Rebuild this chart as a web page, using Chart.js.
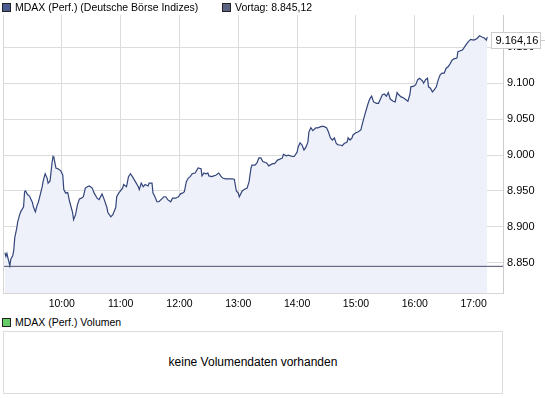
<!DOCTYPE html>
<html>
<head>
<meta charset="utf-8">
<script src="https://cdn.jsdelivr.net/npm/chart.js@4/dist/chart.umd.min.js"></script>
<style>
  body { margin: 0; background: #fff; font-family: "Liberation Sans", Arial, sans-serif; font-size: 11px; color: #000; }
  #wrap { position: relative; width: 545px; height: 398px; overflow: hidden; }
  #main { position: absolute; left: 0; top: 0; }
  .leg { position: absolute; line-height: 13px; white-space: nowrap; font-size: 10.5px; }
  .sq { display: inline-block; width: 7px; height: 7px; border: 1px solid #222; vertical-align: -1px; margin-right: 4px; }
  #volbox { position: absolute; left: 3px; top: 331px; width: 498px; height: 61px; border: 1px solid #dcdcdc;
            text-align: center; line-height: 61px; font-size: 12px; }
</style>
</head>
<body>
<div id="wrap">
  <canvas id="main" width="545" height="312"></canvas>
  <div class="leg" style="left:2px;top:1px"><span class="sq" style="background:#4a5c92"></span>MDAX (Perf.) (Deutsche Börse Indizes)</div>
  <div class="leg" style="left:222px;top:1px"><span class="sq" style="background:#5b6382"></span><span id="vortagText"></span></div>
  <div class="leg" style="left:2px;top:316px"><span class="sq" style="background:#66cc66"></span>MDAX (Perf.) Volumen</div>
  <div id="volbox">keine Volumendaten vorhanden</div>
</div>
<script>
// intraday MDAX (Perf.) values
var timeLabels = [
  "9:02","9:03","9:04","9:05","9:07","9:08","9:10","9:11","9:12","9:14","9:15","9:17","9:18","9:21","9:22","9:23",
  "9:25","9:27","9:30","9:31","9:33","9:35","9:36","9:38","9:40","9:41","9:43","9:45","9:46","9:48","9:50","9:51",
  "9:52","9:54","9:56","9:59","10:01","10:02","10:04","10:06","10:08","10:11","10:12","10:14","10:16","10:18","10:20",
  "10:22","10:24","10:26","10:28","10:31","10:33","10:36","10:38","10:41","10:43","10:46","10:47","10:50","10:52",
  "10:55","10:56","10:58","11:02","11:03","11:06","11:08","11:10","11:12","11:15","11:18","11:19","11:21","11:23",
  "11:25","11:28","11:29","11:32","11:33","11:35","11:37","11:39","11:42","11:44","11:46","11:48","11:51","11:53",
  "11:56","11:59","12:01","12:03","12:05","12:07","12:09","12:11","12:13","12:16","12:19","12:22","12:23","12:25",
  "12:27","12:29","12:30","12:33","12:35","12:37","12:40","12:42","12:44","12:47","12:50","12:54","12:56","12:58",
  "13:00","13:01","13:04","13:06","13:09","13:11","13:13","13:14","13:17","13:19","13:21","13:23","13:25","13:29",
  "13:31","13:35","13:37","13:40","13:42","13:45","13:46","13:49","13:51","13:55","13:57","14:00","14:01","14:03",
  "14:05","14:07","14:09","14:11","14:12","14:14","14:16","14:19","14:21","14:25","14:27","14:30","14:32","14:34",
  "14:36","14:38","14:40","14:42","14:44","14:46","14:48","14:51","14:52","14:54","14:56","14:57","15:00","15:02",
  "15:05","15:07","15:09","15:12","15:14","15:16","15:18","15:21","15:23","15:25","15:27","15:29","15:31","15:33",
  "15:35","15:38","15:40","15:42","15:43","15:46","15:48","15:51","15:53","15:55","15:56","15:59","16:01","16:03",
  "16:05","16:08","16:09","16:11","16:13","16:14","16:16","16:18","16:20","16:22","16:24","16:26","16:28","16:30",
  "16:32","16:34","16:36","16:38","16:40","16:43","16:44","16:48","16:49","16:52","16:54","16:57","17:00","17:02",
  "17:04","17:06","17:09","17:11","17:13","17:14"
];
var mdaxValues = [
  8864,8859,8863,8857,8846,8855,8860,8868,8885,8898,8907,8917,8921,8928,8949,8950,
  8945,8943,8934,8928,8921,8931,8934,8945,8956,8964,8974,8968,8961,8964,8989,8998,
  8996,8982,8981,8978,8972,8952,8947,8948,8935,8920,8910,8917,8931,8939,8940,
  8942,8954,8956,8957,8954,8947,8940,8938,8946,8939,8927,8920,8914,8917,
  8927,8942,8947,8954,8959,8956,8970,8974,8970,8963,8956,8952,8961,8956,
  8959,8957,8961,8961,8947,8942,8935,8935,8939,8942,8942,8938,8935,8940,
  8940,8942,8946,8947,8949,8963,8968,8970,8974,8975,8982,8981,8971,8975,
  8974,8975,8971,8970,8971,8972,8975,8971,8968,8967,8967,8967,8966,8950,
  8947,8942,8950,8952,8954,8963,8982,8986,8986,8989,8996,8996,8991,8989,
  8985,8988,8988,8993,8994,8996,9001,8999,9000,8998,8998,9004,9011,9017,
  9014,9007,9011,9018,9032,9038,9034,9038,9038,9040,9040,9038,9032,9024,
  9021,9024,9016,9014,9014,9013,9016,9018,9024,9021,9024,9028,9031,9032,
  9035,9046,9056,9070,9078,9082,9074,9072,9072,9078,9084,9085,9082,9087,
  9078,9075,9074,9087,9085,9081,9080,9077,9075,9084,9095,9096,9098,9105,
  9107,9103,9100,9105,9107,9095,9093,9088,9091,9095,9105,9112,9114,9114,
  9121,9123,9127,9132,9134,9135,9144,9146,9147,9153,9157,9161,9160,9161,
  9163,9166,9164,9163,9160,9164.16
];
var vortag = 8845.12;
var hourTicks = ["10:00","11:00","12:00","13:00","14:00","15:00","16:00","17:00"];
var priceTicks = [8850, 8900, 8950, 9000, 9050, 9100, 9150];

function toMinutes(s) {
  var p = s.split(":");
  return parseInt(p[0], 10) * 60 + parseInt(p[1], 10);
}
function fmtDe(v, dec) {
  var s = v.toFixed(dec).split(".");
  var i = s[0].replace(/\B(?=(\d{3})+(?!\d))/g, ".");
  return s.length > 1 ? i + "," + s[1] : i;
}

document.getElementById("vortagText").textContent = "Vortag: " + fmtDe(vortag, 2);

var points = timeLabels.map(function (t, i) { return { x: toMinutes(t), y: mdaxValues[i] }; });
var xMin = toMinutes("9:00"), xMax = toMinutes("17:30");

// left frame line + last price box
var framePlugin = {
  id: "frame",
  afterDraw: function (chart) {
    var ctx = chart.ctx, a = chart.chartArea;
    ctx.save();
    ctx.strokeStyle = "#d6d6d6";
    ctx.lineWidth = 1;
    ctx.beginPath();
    ctx.moveTo(Math.round(a.left) + 0.5, a.top);
    ctx.lineTo(Math.round(a.left) + 0.5, a.bottom);
    ctx.stroke();

    var last = mdaxValues[mdaxValues.length - 1];
    var y = Math.round(chart.scales.y.getPixelForValue(last)) + 3;
    var bx = 491.5, bw = 49, bh = 16;
    ctx.fillStyle = "#fff";
    ctx.fillRect(bx, y - bh / 2, bw, bh);
    ctx.strokeStyle = "#cccccc";
    ctx.strokeRect(bx, y - bh / 2 + 0.5, bw, bh);
    ctx.beginPath();
    ctx.moveTo(bx + bw, y + 0.5);
    ctx.lineTo(545, y + 0.5);
    ctx.stroke();
    ctx.fillStyle = "#000";
    ctx.font = '11px "Liberation Sans", Arial, sans-serif';
    ctx.textAlign = "left";
    ctx.textBaseline = "middle";
    ctx.fillText(fmtDe(last, 2), bx + 4, y + 1);
    ctx.restore();
  }
};

var ctx = document.getElementById("main");
var chart = new Chart(ctx, {
  type: "line",
  data: {
    datasets: [{
      label: "MDAX (Perf.)",
      data: points,
      borderColor: "#34457a",
      borderWidth: 1.2,
      backgroundColor: "#eef1fa",
      fill: "start",
      pointRadius: 0,
      tension: 0,
      order: 0
    }, {
      label: "Vortag",
      data: [{ x: xMin, y: vortag }, { x: xMax, y: vortag }],
      borderColor: "#4b4f6a",
      borderWidth: 1,
      fill: false,
      pointRadius: 0,
      order: 1
    }]
  },
  options: {
    responsive: false,
    animation: false,
    devicePixelRatio: 1,
    layout: { padding: { left: 3, top: 15, right: 0, bottom: 0 } },
    plugins: {
      legend: { display: false },
      tooltip: { enabled: false },
      filler: { drawTime: "beforeDatasetsDraw" }
    },
    scales: {
      x: {
        type: "linear",
        min: xMin,
        max: xMax,
        afterBuildTicks: function (scale) {
          scale.ticks = hourTicks.map(function (h) { return { value: toMinutes(h) }; });
        },
        afterFit: function (scale) { scale.height = 19; },
        ticks: {
          padding: 5,
          maxRotation: 0,
          autoSkip: false,
          color: "#000",
          font: { family: "Liberation Sans", size: 10.5 },
          callback: function (v) {
            var h = Math.floor(v / 60), m = v % 60;
            return h + ":" + (m < 10 ? "0" : "") + m;
          }
        },
        grid: { color: "#dcdcdc", drawTicks: false },
        border: { color: "#d6d6d6" }
      },
      y: {
        position: "right",
        min: 8808,
        max: 9195,
        afterBuildTicks: function (scale) {
          scale.ticks = priceTicks.map(function (v) { return { value: v }; });
        },
        afterFit: function (scale) { scale.width = 42; },
        ticks: {
          padding: 4,
          color: "#000",
          font: { family: "Liberation Sans", size: 11 },
          callback: function (v) { return fmtDe(v, 0); }
        },
        grid: { color: "#dcdcdc", drawTicks: false },
        border: { color: "#cccccc" }
      }
    }
  },
  plugins: [framePlugin]
});
</script>
</body>
</html>
